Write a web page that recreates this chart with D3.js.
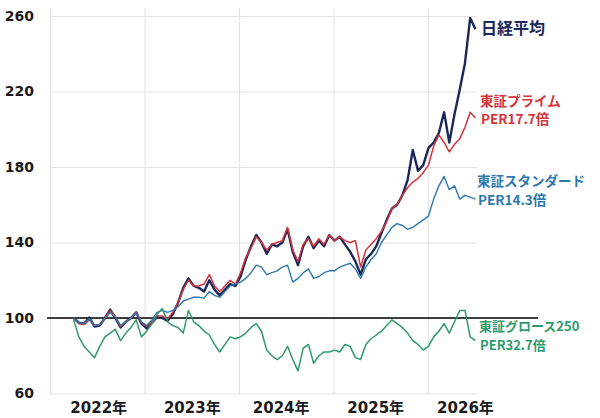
<!DOCTYPE html>
<html>
<head>
<meta charset="utf-8">
<script src="https://cdn.jsdelivr.net/npm/d3@7"></script>
<style>
  body { margin: 0; background: #fff; }
  svg { display: block; }
</style>
</head>
<body>
<svg width="600" height="418"></svg>
<script>
// index values (start = 100), one point every (endYear - startYear) / 77 years
const startYear = 2022.25;
const endYear = 2026.5;

const nikkei = [100, 97.5, 97, 100.3, 95.5, 96, 100, 104.5, 100, 95, 98, 100, 103, 97, 94.5, 97.5,
  100.5, 100, 98.5, 102, 108, 116, 121, 117, 116, 114, 120, 115, 112, 115, 118, 117, 122, 131, 138,
  144, 140, 134, 139, 138, 140, 147, 135, 128, 138, 143, 137, 141, 138, 144, 141, 143, 139, 135,
  130, 123, 131, 134, 138, 145, 152, 158, 160, 165, 173, 189, 178, 181, 190, 193, 198, 209, 193,
  208, 221, 235, 259, 253];

const prime = [100, 97, 96.5, 99, 96, 96.5, 100, 104, 101, 95.5, 98, 100, 103, 97.5, 95.5, 98,
  101, 101, 99.5, 103, 108, 115, 120, 117, 117, 118, 123, 117, 114, 117, 120, 118, 124, 132, 137,
  143, 140, 136, 139, 140, 141, 148, 136, 130, 139, 142, 138, 142, 139, 144, 141, 143, 141, 140,
  141, 127, 136, 139, 142, 146, 151, 158, 160, 165, 169, 172, 174, 177, 181, 191, 197, 193, 188,
  192, 195, 201, 209, 206];

const standard = [100, 97.5, 97, 99.5, 96, 96.5, 99.5, 103, 100.5, 96, 98, 100, 102.5, 98, 96, 99,
  103, 104, 103, 104, 106, 109, 110, 111, 111, 110.5, 114, 112, 111, 114, 117, 118, 119, 121, 124,
  128, 127, 123, 124, 125, 127, 128, 119, 121, 124, 126, 121, 122, 124, 125, 125, 127, 128, 129,
  126, 121, 127, 131, 134, 140, 144, 148, 150, 149, 147, 148, 150, 152, 154, 163, 170, 175, 168,
  170, 163, 165, 164, 163];

const growth = [99, 90, 85, 82, 79, 85, 90, 92, 94, 88, 92, 95, 99, 90, 93, 97, 102, 105, 98, 96,
  95, 92, 104, 98, 96, 93, 91, 86, 82, 86, 90, 89, 90, 92, 95, 97, 93, 83, 80, 78, 80, 85, 78, 72,
  84, 86, 76, 80, 82, 82, 83, 82, 86, 85, 79, 78, 86, 89, 91, 93, 96, 99, 97, 95, 92, 88, 86, 83,
  85, 90, 93, 97, 92, 98, 104, 104, 90, 88];

const gridYears = [2022, 2023, 2024, 2025, 2026];
const yearLabels = ['2022年', '2023年', '2024年', '2025年', '2026年'];
const yearLabelPos = [2022.51, 2023.5, 2024.44, 2025.44, 2026.39];
const yTicks = [60, 100, 140, 180, 220, 260];

const seriesNames = ['日経平均', '東証プライム', '東証スタンダード', '東証グロース250'];
const perLabels = ['', 'PER17.7倍', 'PER14.3倍', 'PER32.7倍'];

const renderChart = (svg) => {
  const margin = {left: 50, top: 16, right: 123, bottom: 24.5};
  const width = +svg.attr('width') - margin.left - margin.right;
  const height = +svg.attr('height') - margin.top - margin.bottom;

  const xScale = d3.scaleLinear()
    .domain([2022, 2026.517])
    .range([0, width]);

  const yScale = d3.scaleLinear()
    .domain([60, 260])
    .range([height, 0]);

  const step = (endYear - startYear) / (nikkei.length - 1);
  const xOf = i => startYear + i * step;

  const g = svg.append('g')
    .attr('transform', `translate(${margin.left},${margin.top})`);

  // horizontal grid + y labels
  const yAxisG = g.append('g')
    .call(d3.axisLeft(yScale).tickValues(yTicks).tickSize(-width).tickPadding(16));
  yAxisG.select('.domain').remove();
  yAxisG.selectAll('.tick line').attr('stroke', '#e2e2e2').attr('stroke-width', 1);
  yAxisG.selectAll('text')
    .attr('font-family', '"DejaVu Sans", sans-serif')
    .attr('font-weight', 'bold')
    .attr('font-size', 14)
    .attr('fill', '#1a1a1a');

  // vertical grid at year starts
  const vGrid = g.append('g')
    .attr('transform', `translate(0, ${height})`)
    .call(d3.axisBottom(xScale).tickValues(gridYears).tickSize(-(height + 8)).tickFormat(''));
  vGrid.select('.domain').remove();
  vGrid.selectAll('.tick line').attr('stroke', '#e2e2e2').attr('stroke-width', 1);

  // year labels
  const xLab = g.append('g')
    .attr('transform', `translate(0, ${height})`)
    .call(d3.axisBottom(xScale).tickValues(yearLabelPos).tickSize(0).tickPadding(9)
      .tickFormat((d, i) => yearLabels[i]));
  xLab.select('.domain').remove();
  xLab.selectAll('text')
    .attr('font-family', '"DejaVu Sans", "Noto Sans CJK JP", sans-serif')
    .attr('font-weight', 'bold')
    .attr('font-size', 15)
    .attr('fill', '#1a1a1a');

  // 100 baseline
  g.append('line')
    .attr('x1', -3).attr('x2', width + 61)
    .attr('y1', yScale(100)).attr('y2', yScale(100))
    .attr('stroke', '#000').attr('stroke-width', 1.5);

  const line = d3.line()
    .x((d, i) => xScale(xOf(i)))
    .y(d => yScale(d));

  const series = [
    {data: nikkei, color: '#1b2859', w: 2.4},
    {data: prime, color: '#d4343c', w: 1.5},
    {data: standard, color: '#2d78ad', w: 1.4},
    {data: growth, color: '#2e9a6c', w: 1.5}
  ];

  series.forEach(s => {
    g.append('path')
      .datum(s.data)
      .attr('fill', 'none')
      .attr('stroke', s.color)
      .attr('stroke-width', s.w)
      .attr('stroke-linejoin', 'round')
      .attr('d', line);
  });

  // right-side labels
  const labelG = svg.append('g')
    .attr('font-family', '"Noto Sans CJK JP", sans-serif')
    .attr('font-weight', 'bold');

  const labelPos = [
    {x: 481, y1: 33.5, y2: 0, size: 16, color: '#1b2859'},
    {x: 480, y1: 105.5, y2: 124, size: 13.5, color: '#d4343c'},
    {x: 477, y1: 186, y2: 205, size: 13.5, color: '#2d78ad'},
    {x: 479, y1: 330.5, y2: 349.5, size: 13, color: '#2e9a6c'}
  ];

  seriesNames.forEach((name, i) => {
    const p = labelPos[i];
    labelG.append('text')
      .attr('x', p.x).attr('y', p.y1)
      .attr('font-size', p.size)
      .attr('fill', p.color)
      .text(name);
    if (perLabels[i]) {
      labelG.append('text')
        .attr('x', p.x + 1).attr('y', p.y2)
        .attr('font-size', p.size)
        .attr('fill', p.color)
        .text(perLabels[i]);
    }
  });
};

renderChart(d3.select('svg'));
</script>
</body>
</html>
